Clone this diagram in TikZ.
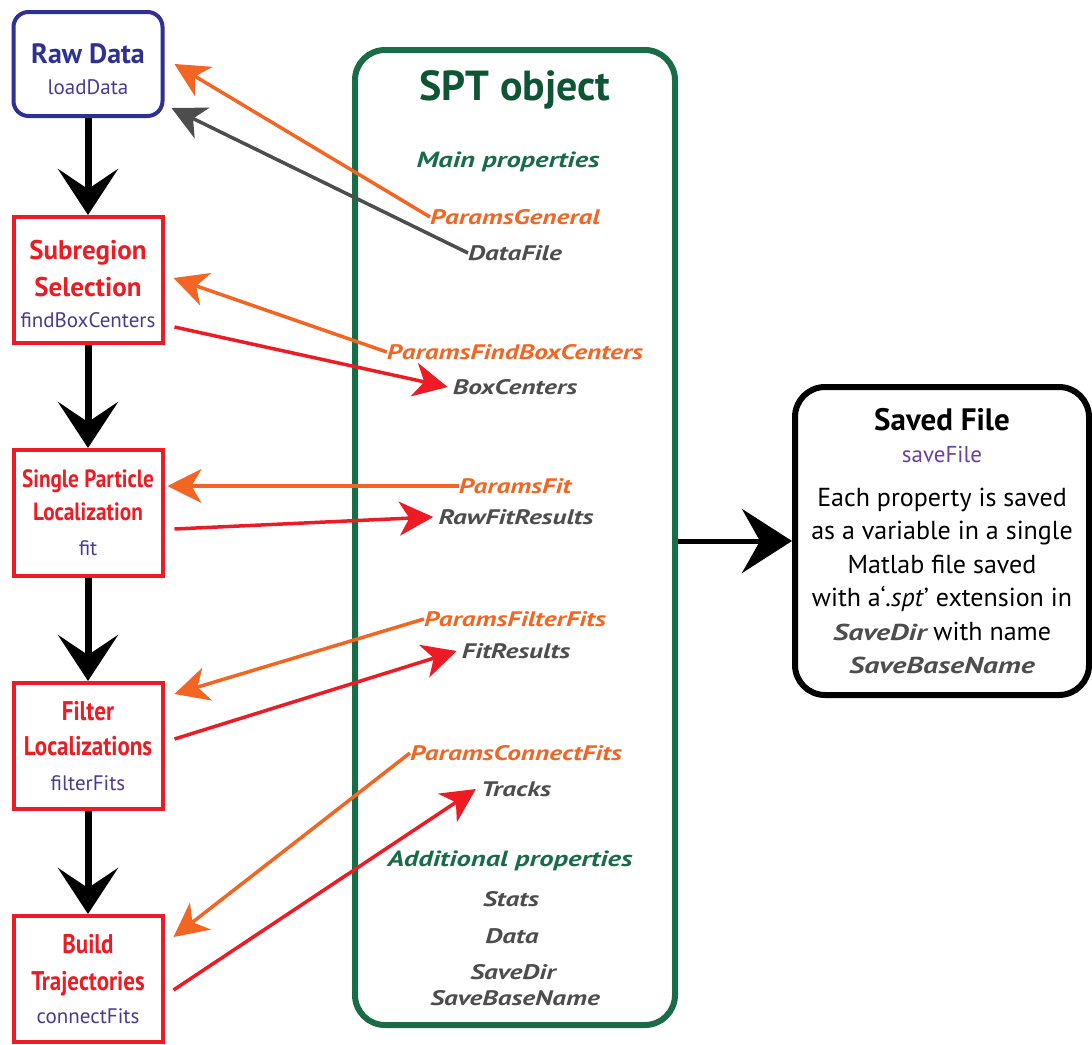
\documentclass[tikz,border=0pt]{standalone}
\usepackage{fontspec}
\setmainfont{PT Sans}
\newfontfamily\condfont[FakeStretch=0.85]{PT Sans}
\newfontfamily\widefont[FakeStretch=1.3]{PT Sans}
\usetikzlibrary{arrows.meta,positioning}

\definecolor{rawblue}{HTML}{2E3192}
\definecolor{stagered}{HTML}{ED1C24}
\definecolor{funcpurple}{HTML}{4B3A8C}
\definecolor{savepurple}{HTML}{6A3FA0}
\definecolor{sptgreen}{HTML}{1A6B47}
\definecolor{sptdark}{HTML}{0F5535}
\definecolor{paramorange}{HTML}{F26522}
\definecolor{propgray}{HTML}{4D4D4D}

\newcommand\fnname[1]{{\rmfamily\mdseries\fontsize{21}{24}\selectfont\color{funcpurple}#1}}
\newcommand\propname[1]{{\widefont\fontsize{23}{26}\selectfont\bfseries\itshape\color{propgray}#1}}

\begin{document}
\begin{tikzpicture}[
        x=1pt, y=-1pt,
        node distance=103pt,
        stage/.style={draw=stagered, line width=4pt, minimum width=149pt, minimum height=126pt,
            align=center, inner sep=0pt, text=stagered, font=\condfont\fontsize{27}{35}\selectfont\bfseries},
        rawbox/.style={stage, draw=rawblue, rounded corners=15pt, minimum height=104pt, text=rawblue},
        param/.style={inner sep=0pt, text=paramorange, font=\widefont\fontsize{21}{24}\selectfont\bfseries\itshape},
        prop/.style={inner sep=0pt, text=propgray, font=\widefont\fontsize{21}{24}\selectfont\bfseries\itshape},
        group/.style={inner sep=0pt, text=sptgreen, font=\widefont\fontsize{22}{26}\selectfont\bfseries\itshape},
        flow/.style={line width=7pt, -{Stealth[length=46pt, width=60pt, inset=20pt]}},
        link/.style={line width=3.5pt, -{Stealth[length=34pt, width=34pt, inset=10pt]}},
    ]
    \useasboundingbox (0,0) rectangle (1092,1044);

    % Processing steps (left column)
    \node (raw) [rawbox, font=\rmfamily\fontsize{28}{34}\selectfont\bfseries] at (88,64)
        {\rule{0pt}{30pt}Raw Data\\[-3pt]\fnname{loadData}};
    \node (sub) [stage, below=97pt of raw, font=\rmfamily\fontsize{27}{35}\selectfont\bfseries]
        {\rule{0pt}{28pt}Subregion\\[2pt]Selection\\[-4pt]\fnname{findBoxCenters}};
    \node (spl) [stage, below=of sub, font=\condfont\fontsize{25}{35}\selectfont\bfseries]
        {Single Particle\\[-2pt]Localization\\\fnname{fit}};
    \node (flt) [stage, below=of spl] {Filter\\Localizations\\\fnname{filterFits}};
    \node (bld) [stage, below=of flt] {Build\\[2pt]Trajectories\\[-2pt]\fnname{connectFits}};

    % SPT object (middle)
    \node (spt) [draw=sptgreen, line width=6pt, rounded corners=30pt, minimum width=320pt, minimum height=975pt] at (515,537.5) {};
    \node (spttitle) [inner sep=0pt, text=sptdark, font=\fontsize{42}{46}\selectfont\bfseries] at (515,90) {SPT object};
    \node (mainp) [group] at (508,162) {Main properties};
    \node (pgen) [param] at (515,217) {ParamsGeneral};
    \node (dfile) [prop] at (515,253) {DataFile};
    \node (pfbc) [param] at (515,352) {ParamsFindBoxCenters};
    \node (bc) [prop] at (515,387) {BoxCenters};
    \node (pfit) [param] at (515,486) {ParamsFit};
    \node (rfr) [prop] at (516,517) {RawFitResults};
    \node (pff) [param] at (515,619) {ParamsFilterFits};
    \node (fr) [prop] at (516,651) {FitResults};
    \node (pcf) [param] at (516,753) {ParamsConnectFits};
    \node (trk) [prop] at (516,789) {Tracks};
    \node (addp) [group] at (510,861) {Additional properties};
    \node (stats) [prop] at (511,899) {Stats};
    \node (data) [prop] at (512,936) {Data};
    \node (sdir) [prop] at (513,972) {SaveDir};
    \node (sbn) [prop] at (515,998) {SaveBaseName};

    % Saved file (right)
    \node (saved) [draw=black, line width=6pt, rounded corners=30pt, minimum width=294pt, minimum height=308pt,
        align=center, inner sep=0pt, font=\fontsize{26}{33.5}\selectfont] at (942,541)
        {{\fontsize{31}{34}\selectfont\bfseries Saved File}\\[-1pt]
         {\fontsize{23}{26}\selectfont\color{savepurple}saveFile}\\[10pt]
         Each property is saved\\
         as a variable in a single\\
         Matlab file saved\\
         with a‘\textit{.spt}’ extension in\\
         \propname{SaveDir} with name\\
         \propname{SaveBaseName}};

    % --- Edges ---
    % Main flow
    \draw [flow] (raw) -- (sub);
    \draw [flow] (sub) -- (spl);
    \draw [flow] (spl) -- (flt);
    \draw [flow] (flt) -- (bld);
    \draw [flow, line width=5pt, -{Stealth[length=50pt, width=64pt, inset=18pt]}] (spt.east |- saved.west) -- (saved.west);

    % Parameters read by each step
    \draw [link, paramorange] (pgen.west) -- ([xshift=10pt]raw.east);
    \draw [link, propgray] (dfile.west) -- ([shift={(7pt,10pt)}]raw.south east);
    \draw [link, paramorange] (pfbc.west) -- ([shift={(9pt,2pt)}]sub.east);
    \draw [link, paramorange] (pfit.west) -- ([shift={(3pt,27pt)}]spl.east);
    \draw [link, paramorange] (pff.west) -- ([shift={(10pt,52pt)}]flt.east);
    \draw [link, paramorange] (pcf.west) -- ([shift={(9pt,42pt)}]bld.east);

    % Results written by each step
    \draw [link, stagered] ([shift={(10pt,18pt)}]sub.south east) -- ([xshift=-5pt]bc.west);
    \draw [link, stagered] ([shift={(10pt,-16pt)}]spl.east) -- ([xshift=-5pt]rfr.west);
    \draw [link, stagered] ([shift={(10pt,7pt)}]flt.east) -- ([xshift=-5pt]fr.west);
    \draw [link, stagered] ([shift={(9pt,-11pt)}]bld.east) -- ([xshift=-5pt]trk.west);

\end{tikzpicture}
\end{document}
